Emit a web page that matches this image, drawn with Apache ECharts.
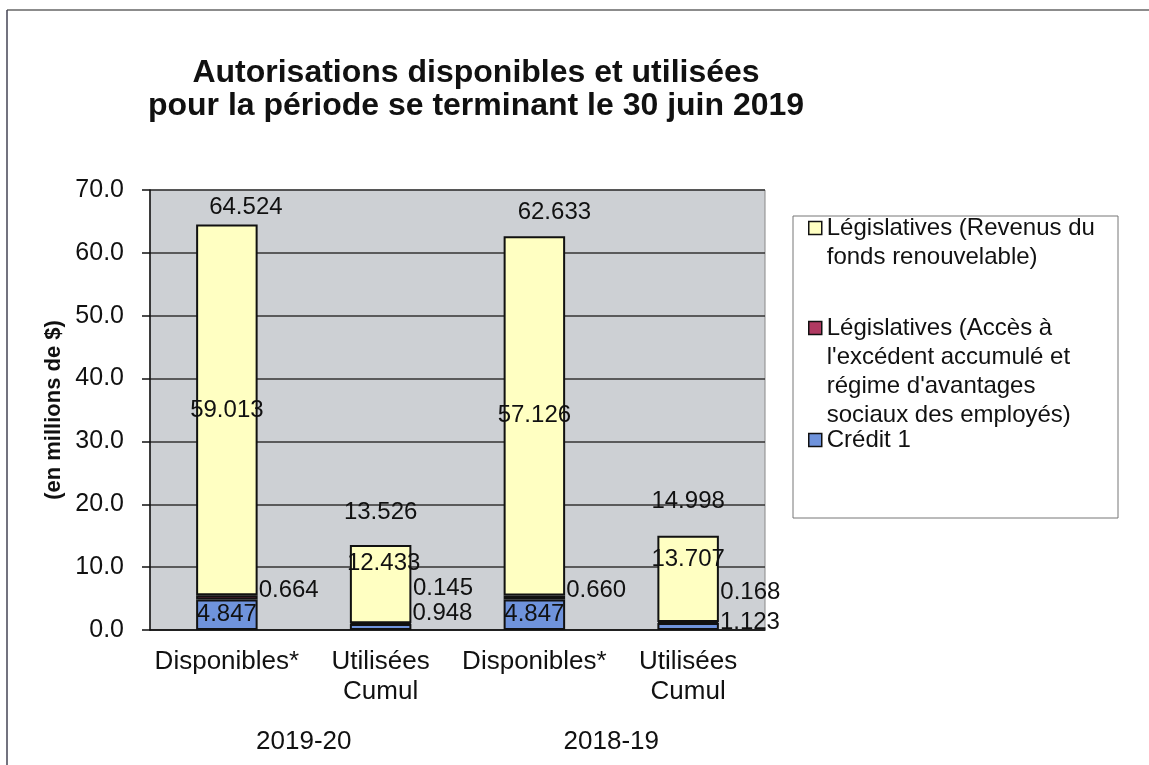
<!DOCTYPE html>
<html><head><meta charset="utf-8">
<script src="https://cdn.jsdelivr.net/npm/echarts@6/dist/echarts.min.js"></script>
<style>html,body{margin:0;padding:0;background:#fff}#c{width:1149px;height:765px}</style>
</head><body><div id="c"></div>
<script>
// ---- data ----
const categories = ['Disponibles*', 'Utilisées Cumul', 'Disponibles*', 'Utilisées Cumul'];
const years = ['2019-20', '2018-19'];
const credit1 = [4.847, 0.948, 4.847, 1.123];
const acces = [0.664, 0.145, 0.660, 0.168];
const revenus = [59.013, 12.433, 57.126, 13.707];
const totals = [64.524, 13.526, 62.633, 14.998];
const nameRevenus = 'Législatives (Revenus du fonds renouvelable)';
const nameAcces = "Législatives (Accès à l'excédent accumulé et régime d'avantages sociaux des employés)";
const nameCredit = 'Crédit 1';

// ---- layout / style (not data) ----
const FONT = '"Liberation Sans", Arial, sans-serif';
const wrappedLines = {};
wrappedLines[nameRevenus] = ['Législatives (Revenus du', 'fonds renouvelable)'];
wrappedLines[nameAcces] = ['Législatives (Accès à', "l'excédent accumulé et", "régime d'avantages", 'sociaux des employés)'];
wrappedLines[nameCredit] = ['Crédit 1'];

const creditLbl = [{position:'inside'}, {position:'right', distance:1, offset:[0,-14]}, {position:'inside'}, {position:'right', distance:1, offset:[0,-4]}];
const accesLbl = [{position:'right', distance:1, offset:[0,-7]}, {position:'right', distance:1, offset:[0,-35]}, {position:'right', distance:1, offset:[0,-7]}, {position:'right', distance:1, offset:[0,-30]}];
const revenusLbl = [{position:'inside'}, {position:'inside', offset:[3,-21]}, {position:'inside'}, {position:'inside', offset:[0,-19]}];
const totalLbl = [{offset:[19,0]}, {offset:[0,-15]}, {offset:[20,-6]}, {offset:[0,-17]}];

const lblBase = {show:true, color:'#111', fontSize:24, fontFamily:FONT, formatter: p => Number(p.value).toFixed(3)};
function build(values, lbls){ return values.map((v,i) => ({value:v, label:lbls[i]})); }

const LH = 29;
// icon sits on the first text line: pad the block with (n-1) blank lines above so it stays centred on the icon
function legendFor(name, centerY){
  const lines = wrappedLines[name];
  const n = lines.length;
  return {
    data:[name], orient:'vertical', left:808, top:centerY - (2*n-1)*LH/2, padding:0,
    icon:'rect', itemWidth:13, itemHeight:13, itemGap:0,
    itemStyle:{borderColor:'#111', borderWidth:1.5},
    formatter: nm => '\n'.repeat(n-1) + lines.join('\n'),
    textStyle:{fontSize:24, fontFamily:FONT, color:'#111', lineHeight:LH}
  };
}

const barBase = {type:'bar', stack:'tot', barWidth:'40%'};

const chart = echarts.init(document.getElementById('c'), null, {renderer:'canvas'});
chart.setOption({
  backgroundColor:'#ffffff',
  animation:false,
  title:{
    text:'Autorisations disponibles et utilisées\npour la période se terminant le 30 juin 2019',
    left:471, top:52, textAlign:'center',
    textStyle:{fontSize:32, fontWeight:'bold', fontFamily:FONT, color:'#111', lineHeight:33}
  },
  graphic:[
    {type:'line', shape:{x1:7, y1:10, x2:1149, y2:10}, style:{stroke:'#666', lineWidth:1.5}, z:0},
    {type:'line', shape:{x1:7, y1:10, x2:7, y2:765}, style:{stroke:'#445', lineWidth:1.5}, z:0},
    {type:'rect', shape:{x:793, y:216, width:325, height:302}, style:{fill:'#fff', stroke:'#777', lineWidth:1}, z:0}
  ],
  legend:[
    legendFor(nameRevenus, 228),
    legendFor(nameAcces, 328),
    legendFor(nameCredit, 440)
  ],
  grid:{left:150, top:190, width:615, height:440, show:true, backgroundColor:'#cdd0d4', borderColor:'#888', borderWidth:1},
  xAxis:[
    {type:'category', data:categories, gridIndex:0, position:'bottom',
     axisLine:{lineStyle:{color:'#111', width:1.5}}, axisTick:{show:false},
     axisLabel:{color:'#111', fontSize:26, fontFamily:FONT, lineHeight:30, margin:17, interval:0,
       formatter: v => v.replace(' ', '\n')}},
    {type:'category', data:years, gridIndex:0, position:'bottom',
     axisLine:{show:false}, axisTick:{show:false}, splitLine:{show:false},
     axisLabel:{color:'#111', fontSize:26, fontFamily:FONT, margin:99, interval:0}}
  ],
  yAxis:{
    type:'value', min:0, max:70, interval:10,
    name:'(en millions de $)', nameLocation:'middle', nameGap:56, nameRotate:90,
    nameTextStyle:{fontSize:22, fontWeight:'bold', fontFamily:FONT, color:'#111'},
    axisLine:{show:true, lineStyle:{color:'#111', width:1.5}},
    axisTick:{show:true, length:8, lineStyle:{color:'#111', width:1.5}},
    axisLabel:{color:'#111', fontSize:25, fontFamily:FONT, margin:26, formatter: v => v.toFixed(1)},
    splitLine:{show:true, lineStyle:{color:'#333', width:1.5}}
  },
  series:[
    Object.assign({}, barBase, {name:nameCredit, data:build(credit1, creditLbl), color:'#6f93dc',
      itemStyle:{color:'#6f93dc', borderColor:'#111', borderWidth:2}, label:lblBase}),
    Object.assign({}, barBase, {name:nameAcces, data:build(acces, accesLbl), color:'#b03a62',
      itemStyle:{color:'#b03a62', borderColor:'#111', borderWidth:2}, label:lblBase}),
    Object.assign({}, barBase, {name:nameRevenus, data:build(revenus, revenusLbl), color:'#ffffc2',
      itemStyle:{color:'#ffffc2', borderColor:'#111', borderWidth:2}, label:lblBase}),
    {type:'scatter', name:'Total', data:build(totals, totalLbl), symbolSize:1,
      itemStyle:{color:'transparent', opacity:1}, z:5,
      label:Object.assign({}, lblBase, {position:'top', distance:5})}
  ]
});
</script></body></html>
